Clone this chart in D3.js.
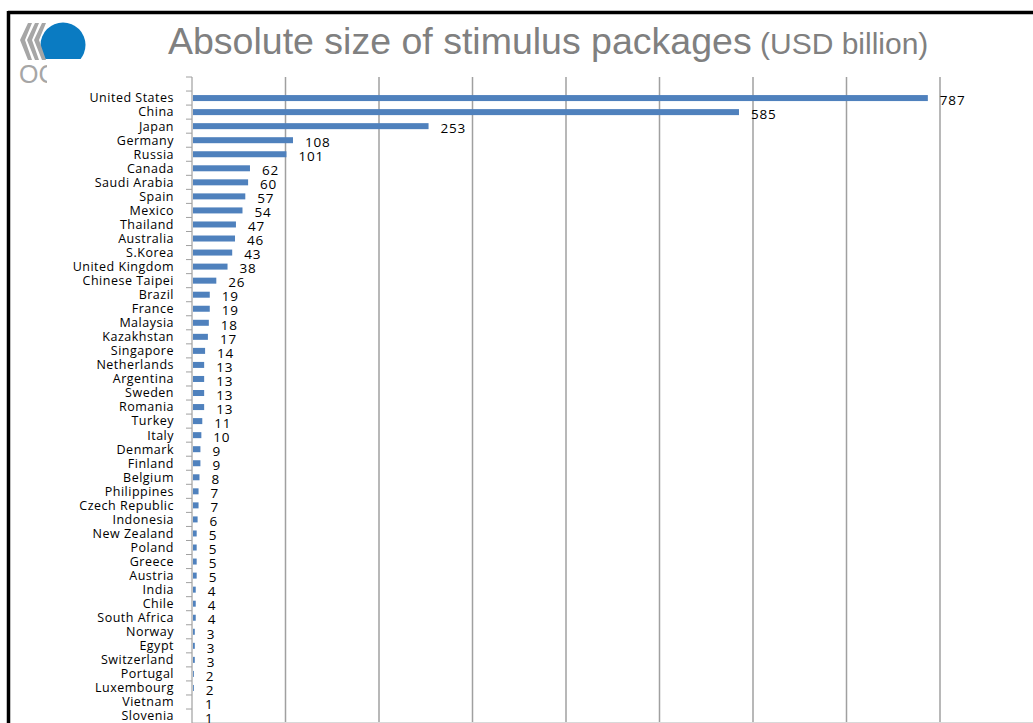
<!DOCTYPE html>
<html>
<head>
<meta charset="utf-8">
<script src="https://cdn.jsdelivr.net/npm/d3@7"></script>
<style>
  html, body { margin: 0; padding: 0; background: #fff; }
  svg { display: block; }
</style>
</head>
<body>
<svg id="chart" width="1033" height="723"></svg>
<script>
// Stimulus package sizes, USD billion
const countries = [
  "United States", "China", "Japan", "Germany", "Russia", "Canada", "Saudi Arabia",
  "Spain", "Mexico", "Thailand", "Australia", "S.Korea", "United Kingdom",
  "Chinese Taipei", "Brazil", "France", "Malaysia", "Kazakhstan", "Singapore",
  "Netherlands", "Argentina", "Sweden", "Romania", "Turkey", "Italy", "Denmark",
  "Finland", "Belgium", "Philippines", "Czech Republic", "Indonesia", "New Zealand",
  "Poland", "Greece", "Austria", "India", "Chile", "South Africa", "Norway", "Egypt",
  "Switzerland", "Portugal", "Luxembourg", "Vietnam", "Slovenia"
];
const values = [
  787, 585, 253, 108, 101, 62, 60,
  57, 54, 47, 46, 43, 38,
  26, 19, 19, 18, 17, 14,
  13, 13, 13, 13, 11, 10, 9,
  9, 8, 7, 7, 6, 5,
  5, 5, 5, 4, 4, 4, 3, 3,
  3, 2, 2, 1, 1
];
const xTicks = [0, 100, 200, 300, 400, 500, 600, 700, 800];

const titleMain = "Absolute size of stimulus packages";
const titleUnit = " (USD billion)";

const data = countries.map((c, i) => ({ country: c, value: values[i] }));

const svg = d3.select("#chart");
const W = 1033, H = 723;

// slide frame
svg.append("line").attr("x1", 8).attr("x2", W).attr("y1", 12.5).attr("y2", 12.5)
  .attr("stroke", "#000").attr("stroke-width", 3.5);
svg.append("line").attr("x1", 8.5).attr("x2", 8.5).attr("y1", 11).attr("y2", H)
  .attr("stroke", "#000").attr("stroke-width", 3.5);

// logo
const logo = svg.append("g");
logo.append("clipPath").attr("id", "logoClip")
  .append("rect").attr("x", 40).attr("y", 20).attr("width", 50).attr("height", 39);
logo.append("circle").attr("cx", 63).attr("cy", 45).attr("r", 22.5)
  .attr("fill", "#0a7bc2").attr("clip-path", "url(#logoClip)");
[0, 7, 14].forEach(dx => {
  logo.append("path")
    .attr("d", `M${28 + dx},23 L${20 + dx},40 L${28 + dx},60 L${32 + dx},60 L${25 + dx},40 L${32 + dx},23 Z`)
    .attr("fill", "#a6a6a6");
});
logo.append("clipPath").attr("id", "ocClip")
  .append("rect").attr("x", 15).attr("y", 60).attr("width", 32).attr("height", 30);
logo.append("text").attr("x", 19).attr("y", 83)
  .attr("font-family", "Liberation Sans, Arial, sans-serif").attr("font-size", 25)
  .attr("fill", "#a6a6a6").attr("clip-path", "url(#ocClip)").text("OC");

// title
const title = svg.append("text").attr("x", 168).attr("y", 54)
  .attr("font-family", "Liberation Sans, Arial, sans-serif").attr("fill", "#808080");
title.append("tspan").attr("font-size", 37.5).text(titleMain);
title.append("tspan").attr("font-size", 30).text(titleUnit);

// scales
const x = d3.scaleLinear().domain([0, 800]).range([192, 940]);
const step = 14.045;
const yTop = 77;
const y = d3.scaleBand().domain(countries)
  .range([yTop + step, yTop + step * (countries.length + 1)])
  .paddingInner(0).paddingOuter(0);

// vertical gridlines
svg.append("g").selectAll("line").data(xTicks.slice(1)).join("line")
  .attr("x1", d => x(d)).attr("x2", d => x(d))
  .attr("y1", yTop).attr("y2", H)
  .attr("stroke", "#a0a0a0").attr("stroke-width", 1.5);

// bottom edge of plot
svg.append("line").attr("x1", 192).attr("x2", W).attr("y1", 722.5).attr("y2", 722.5)
  .attr("stroke", "#d9d9d9").attr("stroke-width", 1);

// category axis
svg.append("line").attr("x1", 192).attr("x2", 192).attr("y1", yTop).attr("y2", H)
  .attr("stroke", "#a0a0a0").attr("stroke-width", 1.2);
const tickYs = d3.range(countries.length + 1).map(i => yTop + step * i);
svg.append("g").selectAll("line").data(tickYs).join("line")
  .attr("x1", 186).attr("x2", 192).attr("y1", d => d).attr("y2", d => d)
  .attr("stroke", "#a0a0a0").attr("stroke-width", 1);

// bars
const barH = 6;
svg.append("g").selectAll("rect").data(data).join("rect")
  .attr("x", x(0) + 1)
  .attr("y", d => y(d.country) + y.bandwidth() / 2 - barH / 2)
  .attr("width", d => Math.max(0, x(d.value) - x(0) - 1))
  .attr("height", barH)
  .attr("fill", "#4f81bd");

// category labels
svg.append("g").selectAll("text").data(data).join("text")
  .attr("x", 174)
  .attr("y", d => y(d.country) + y.bandwidth() / 2)
  .attr("dy", "0.35em")
  .attr("text-anchor", "end")
  .attr("font-family", "Open Sans, DejaVu Sans, sans-serif")
  .attr("font-size", 12.5)
  .attr("letter-spacing", 0.5)
  .attr("fill", "#000")
  .text(d => d.country);

// value labels
svg.append("g").selectAll("text").data(data).join("text")
  .attr("x", d => x(d.value) + 12)
  .attr("y", d => y(d.country) + y.bandwidth() / 2 + 2)
  .attr("dy", "0.35em")
  .attr("font-family", "Open Sans, DejaVu Sans, sans-serif")
  .attr("font-size", 13.5)
  .attr("letter-spacing", 0.8)
  .attr("fill", "#000")
  .text(d => d.value);
</script>
</body>
</html>
